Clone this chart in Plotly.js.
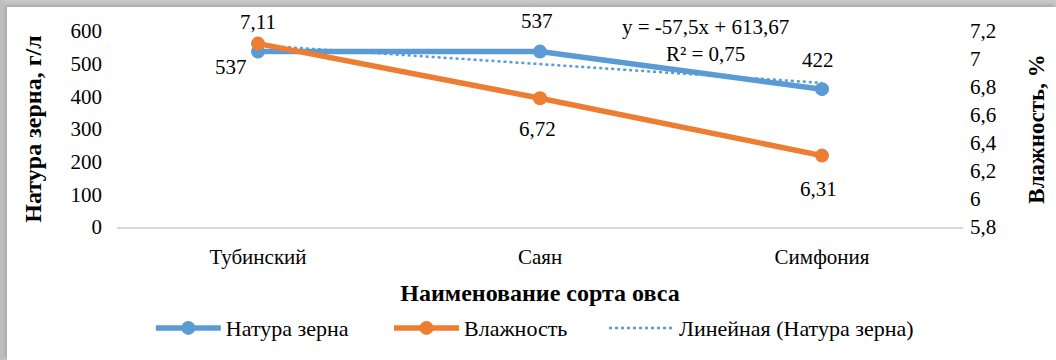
<!DOCTYPE html>
<html>
<head>
<meta charset="utf-8">
<script src="https://cdn.plot.ly/plotly-3.0.1.min.js"></script>
<style>
  html, body { margin: 0; padding: 0; background: #ffffff; }
  #frame { position: relative; width: 1056px; height: 360px; overflow: hidden;
           background: linear-gradient(to right, #bdbdbd 0px, #c9c9c9 7px, #c9c9c9 100%); }
  #sheet { position: absolute; left: 7px; top: 7px; right: 0; bottom: 0; background: #ffffff;
           box-shadow: -2px -2px 4px rgba(0,0,0,0.18); }
  #chart { position: absolute; left: 0; top: 0; width: 1056px; height: 360px; }
</style>
</head>
<body>
<div id="frame"><div id="sheet"></div><div id="chart"></div></div>
<script>
// Oat varieties and their measured properties
const varieties = ['Тубинский', 'Саян', 'Симфония'];
const grainNature = [537, 537, 422];        // г/л
const moisture = [7.11, 6.72, 6.31];        // %
const grainNatureLabels = ['537', '537', '422'];
const moistureLabels = ['7,11', '6,72', '6,31'];

// Linear trend of grain nature (y = slope * x + intercept, x = 1..n)
const trendSlope = -57.5;
const trendIntercept = 613.67;
const trendEquation = 'y = -57,5x + 613,67';
const trendR2 = 'R² = 0,75';

// Axis ticks
const leftTicks = [0, 100, 200, 300, 400, 500, 600];
const rightTicks = [5.8, 6.0, 6.2, 6.4, 6.6, 6.8, 7.0, 7.2];
const rightTickText = ['5,8', '6', '6,2', '6,4', '6,6', '6,8', '7', '7,2'];

const BLUE = '#5b9bd5';
const ORANGE = '#ed7d31';
const FONT = '"Liberation Serif", "Times New Roman", serif';

const trendValues = varieties.map((_, i) => trendSlope * (i + 1) + trendIntercept);

const traces = [
  {
    x: varieties, y: grainNature, name: 'Натура зерна', type: 'scatter', mode: 'lines+markers',
    line: { color: BLUE, width: 5.5 }, marker: { color: BLUE, size: 14 }, yaxis: 'y', legend: 'legend'
  },
  {
    x: varieties, y: moisture, name: 'Влажность', type: 'scatter', mode: 'lines+markers',
    line: { color: ORANGE, width: 5.5 }, marker: { color: ORANGE, size: 14 }, yaxis: 'y2', legend: 'legend2'
  },
  {
    x: varieties, y: trendValues, name: 'Линейная (Натура зерна)', type: 'scatter', mode: 'lines',
    line: { color: BLUE, width: 2.5, dash: 'dot' }, yaxis: 'y', legend: 'legend3'
  }
];

// Value labels placed relative to their points
const natureShift = [[-27, -15], [-3, 31], [-4, 29]];
const moistureShift = [[0, 22], [-3, -31], [-4, -33]];
const labelFont = { family: FONT, size: 21, color: '#000' };
const annotations = [];
varieties.forEach((v, i) => {
  annotations.push({ x: v, y: grainNature[i], xref: 'x', yref: 'y', text: grainNatureLabels[i],
    showarrow: false, xanchor: 'center', yanchor: 'middle',
    xshift: natureShift[i][0], yshift: natureShift[i][1], font: labelFont });
  annotations.push({ x: v, y: moisture[i], xref: 'x', yref: 'y2', text: moistureLabels[i],
    showarrow: false, xanchor: 'center', yanchor: 'middle',
    xshift: moistureShift[i][0], yshift: moistureShift[i][1], font: labelFont });
});
annotations.push({ xref: 'paper', yref: 'paper', x: 0.696, y: 0.949, xanchor: 'center', yanchor: 'middle',
  text: trendEquation + '<br>' + trendR2, showarrow: false, align: 'center', font: labelFont });

// One legend box per series, laid out in a single row under the axis title
const legendBase = { orientation: 'h', xanchor: 'left', y: -0.508, yanchor: 'middle',
  font: { family: FONT, size: 22, color: '#000' }, itemwidth: 65, bgcolor: 'rgba(0,0,0,0)' };

const layout = {
  width: 1056, height: 360,
  margin: { l: 117, r: 93, t: 31, b: 132 },
  paper_bgcolor: 'rgba(0,0,0,0)', plot_bgcolor: 'rgba(0,0,0,0)',
  font: { family: FONT, size: 21, color: '#000' },
  showlegend: true,
  legend: Object.assign({}, legendBase, { x: 0.040 }),
  legend2: Object.assign({}, legendBase, { x: 0.3215 }),
  legend3: Object.assign({}, legendBase, { x: 0.5757 }),
  xaxis: {
    type: 'category', range: [-0.5, 2.5], showgrid: false, zeroline: false, automargin: false,
    showline: true, linecolor: '#d9d9d9', linewidth: 1.5, ticks: '', ticklabelstandoff: 10,
    tickfont: { family: FONT, size: 21, color: '#000' },
    title: { text: '<b>Наименование сорта овса</b>', standoff: 16, font: { family: FONT, size: 24, color: '#000' } }
  },
  yaxis: {
    range: [0, 600], tickvals: leftTicks, showgrid: false, zeroline: false, showline: false, automargin: false,
    ticks: '', ticklabelstandoff: 14, tickfont: { family: FONT, size: 21, color: '#000' },
    title: { text: '<b>Натура зерна, г/л</b>', standoff: 22, font: { family: FONT, size: 24, color: '#000' } }
  },
  yaxis2: {
    range: [5.8, 7.2], overlaying: 'y', side: 'right', tickvals: rightTicks, ticktext: rightTickText,
    showgrid: false, zeroline: false, showline: false, automargin: false, ticks: '', ticklabelstandoff: 6,
    tickfont: { family: FONT, size: 21, color: '#000' },
    title: { text: '<b>Влажность, %</b>', standoff: 32, font: { family: FONT, size: 23, color: '#000' } }
  },
  annotations: annotations
};

Plotly.newPlot('chart', traces, layout, { displayModeBar: false, staticPlot: true });
</script>
</body>
</html>
